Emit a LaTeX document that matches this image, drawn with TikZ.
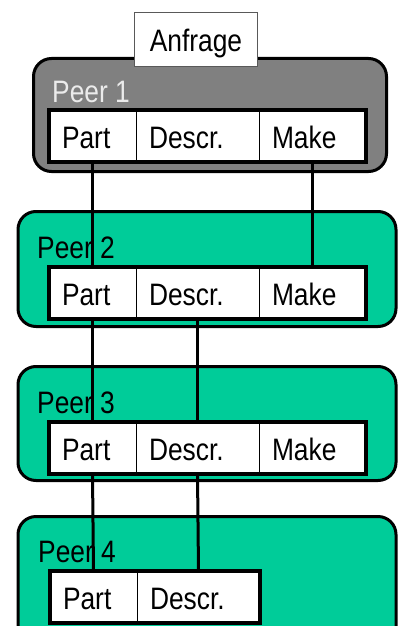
\documentclass[tikz,border=0pt]{standalone}
\usepackage{fontspec}
\setmainfont{Liberation Sans}[FakeStretch=0.85]
\definecolor{peergreen}{RGB}{0,204,153}
\definecolor{peergray}{RGB}{128,128,128}
\definecolor{peerlabel}{RGB}{235,235,235}
\begin{document}
\begin{tikzpicture}[x=1pt,y=-1pt,
  font=\fontsize{31}{37}\selectfont,
  peerbox/.style={draw=black,line width=3pt,rounded corners=18pt},
  cell/.style={draw=black,line width=1pt,fill=white,minimum height=52pt,inner xsep=13pt,inner ysep=0pt,outer sep=0pt,text height=24pt,text depth=0pt,align=left,anchor=north west},
  cellA/.style={cell,text width=61pt},
  cellB/.style={cell,text width=97pt},
  cellC/.style={cell,text width=81pt},
  tableframe/.style={draw=black,line width=3.5pt},
  link/.style={draw=black,line width=3pt},
  peername/.style={anchor=base west,inner sep=0pt}
]
\useasboundingbox (0,0) rectangle (399,626);
\clip (0,0) rectangle (399,626);
% peer boxes
\draw[peerbox,fill=peergray]  (33.5,58.5) rectangle (386.5,171.5);
\draw[peerbox,fill=peergreen] (18,211.5) rectangle (396,326.5);
\draw[peerbox,fill=peergreen] (18,366.5) rectangle (396,480.5);
\draw[peerbox,fill=peergreen] (18,516.5) rectangle (396,680);
% labels
\node[peername,text=peerlabel] (l1) at (52,102) {Peer 1};
\node[peername] (l2) at (37,258) {Peer 2};
\node[peername] (l3) at (37,413) {Peer 3};
\node[peername] (l4) at (38,562) {Peer 4};
% tables (coordinates for cells)
\node[cellA] (p1a) at (49,110) {Part};
\node[cellB] (p1b) at (p1a.north east) {Descr.};
\node[cellC] (p1c) at (p1b.north east) {Make};
\node[cellA] (p2a) at (49,267) {Part};
\node[cellB] (p2b) at (p2a.north east) {Descr.};
\node[cellC] (p2c) at (p2b.north east) {Make};
\node[cellA] (p3a) at (49,422) {Part};
\node[cellB] (p3b) at (p3a.north east) {Descr.};
\node[cellC] (p3c) at (p3b.north east) {Make};
\node[cellA] (p4a) at (50,571) {Part};
\node[cellB] (p4b) at (p4a.north east) {Descr.};
% links
\draw[link] (p1a.south) -- (p2a.north);
\draw[link] (p1c.south) -- (p2c.north);
\draw[link] (p2a.south) -- (p3a.north);
\draw[link] (p2b.south) -- (p3b.north);
\draw[link] (p3a.south) -- (p4a.north);
\draw[link] (p3b.south) -- (p4b.north);
% table frames
\draw[tableframe] (p1a.north west) rectangle (p1c.south east);
\draw[tableframe] (p2a.north west) rectangle (p2c.south east);
\draw[tableframe] (p3a.north west) rectangle (p3c.south east);
\draw[tableframe] (p4a.north west) rectangle (p4b.south east);
% query box
\node[draw=gray!70!black,line width=0.8pt,fill=white,minimum width=123pt,minimum height=54pt,inner sep=0pt,text height=24pt,text depth=-3pt] (anfrage) at (196,39.5) {Anfrage};
\end{tikzpicture}
\end{document}
